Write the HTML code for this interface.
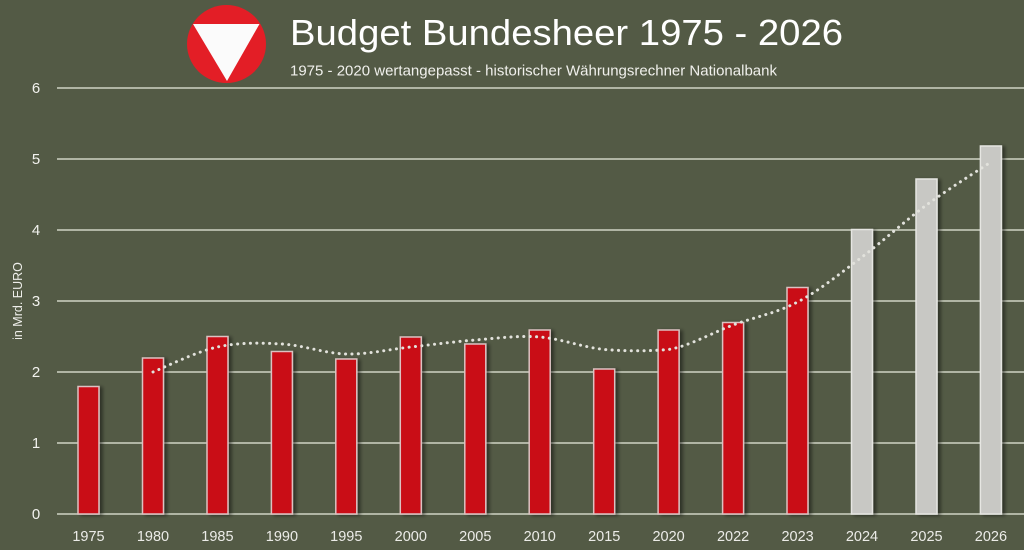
<!DOCTYPE html>
<html>
<head>
<meta charset="utf-8">
<style>
html,body{margin:0;padding:0;background:#535a45;}
svg{display:block;}
text{font-family:"Liberation Sans",sans-serif;}
</style>
</head>
<body>
<svg width="1024" height="550" viewBox="0 0 1024 550" xmlns="http://www.w3.org/2000/svg">
<defs>
<filter id="sh" x="-30%" y="-10%" width="180%" height="130%">
<feGaussianBlur in="SourceAlpha" stdDeviation="1.8"/>
<feOffset dx="3" dy="1" result="o"/>
<feComponentTransfer><feFuncA type="linear" slope="0.45"/></feComponentTransfer>
<feMerge><feMergeNode/><feMergeNode in="SourceGraphic"/></feMerge>
</filter>
</defs>
<rect width="1024" height="550" fill="#535a45"/>

<!-- logo -->
<ellipse cx="226.5" cy="44" rx="39.5" ry="39" fill="#e31e26"/>
<polygon points="193,24 259.5,24 227,81" fill="#fbfbfb"/>

<!-- titles -->
<text x="290" y="45" font-size="36" fill="#ffffff" textLength="553" lengthAdjust="spacingAndGlyphs">Budget Bundesheer 1975 - 2026</text>
<text x="290" y="75.5" font-size="14.5" fill="#f0f0ec" textLength="487" lengthAdjust="spacingAndGlyphs">1975 - 2020 wertangepasst - historischer Währungsrechner Nationalbank</text>

<!-- gridlines -->
<g stroke="#cfd3c4" stroke-width="1.5">
<line x1="57" y1="88" x2="1024" y2="88"/>
<line x1="57" y1="159" x2="1024" y2="159"/>
<line x1="57" y1="230" x2="1024" y2="230"/>
<line x1="57" y1="301" x2="1024" y2="301"/>
<line x1="57" y1="372" x2="1024" y2="372"/>
<line x1="57" y1="443" x2="1024" y2="443"/>
<line x1="57" y1="514" x2="1024" y2="514"/>
</g>

<!-- y ticks -->
<g font-size="15" fill="#f2f2ee" text-anchor="middle">
<text x="36" y="93">6</text>
<text x="36" y="164">5</text>
<text x="36" y="235">4</text>
<text x="36" y="306">3</text>
<text x="36" y="377">2</text>
<text x="36" y="448">1</text>
<text x="36" y="519">0</text>
</g>
<text transform="translate(22,301) rotate(-90)" font-size="12.5" fill="#eeeeea" text-anchor="middle">in Mrd. EURO</text>

<!-- bars -->
<g filter="url(#sh)" stroke-width="1.5">
<g fill="#c90c16" stroke="#dcc2c2">
<rect x="78" y="386.5" width="21" height="127.5"/>
<rect x="142.5" y="358" width="21" height="156"/>
<rect x="207" y="336.5" width="21" height="177.5"/>
<rect x="271.4" y="351.5" width="21" height="162.5"/>
<rect x="335.8" y="359" width="21" height="155"/>
<rect x="400.3" y="337" width="21" height="177"/>
<rect x="464.8" y="344" width="21" height="170"/>
<rect x="529.2" y="330" width="21" height="184"/>
<rect x="593.7" y="369" width="21" height="145"/>
<rect x="658.1" y="330" width="21" height="184"/>
<rect x="722.6" y="322.5" width="21" height="191.5"/>
<rect x="787" y="287.5" width="21" height="226.5"/>
</g>
<g fill="#c8c8c4" stroke="#e6e6e2">
<rect x="851.5" y="229.5" width="21" height="284.5"/>
<rect x="916" y="179" width="21" height="335"/>
<rect x="980.4" y="146" width="21" height="368"/>
</g>
</g>

<!-- trend line -->
<path d="M153,372 C163.7,367.8 195.9,351.7 217.4,347 C238.9,342.3 260.4,342.8 281.9,344 C303.4,345.2 324.8,353.5 346.3,354 C367.8,354.5 389.3,349.3 410.8,347 C432.3,344.7 453.8,341.7 475.3,340 C496.8,338.3 518.2,335.3 539.7,337 C561.2,338.7 582.7,347.3 604.2,349.5 C625.7,351.2 647.1,351.2 668.6,349.5 C690.1,345.8 711.6,333 733.1,325 C754.6,317 776.1,313.3 797.6,302 C819.1,290.7 840.5,273.2 862,257 C883.5,240.8 905,220.8 926.5,205 C948,189.2 980.2,169.2 990.9,162" fill="none" stroke="#e2e2dc" stroke-width="3" stroke-linecap="round" stroke-dasharray="0.1 6.3"/>

<!-- x labels -->
<g font-size="14.5" fill="#ececE8" text-anchor="middle">
<text x="88.5" y="541">1975</text>
<text x="153" y="541">1980</text>
<text x="217.4" y="541">1985</text>
<text x="281.9" y="541">1990</text>
<text x="346.3" y="541">1995</text>
<text x="410.8" y="541">2000</text>
<text x="475.3" y="541">2005</text>
<text x="539.7" y="541">2010</text>
<text x="604.2" y="541">2015</text>
<text x="668.6" y="541">2020</text>
<text x="733.1" y="541">2022</text>
<text x="797.6" y="541">2023</text>
<text x="862" y="541">2024</text>
<text x="926.5" y="541">2025</text>
<text x="990.9" y="541">2026</text>
</g>
</svg>
</body>
</html>
